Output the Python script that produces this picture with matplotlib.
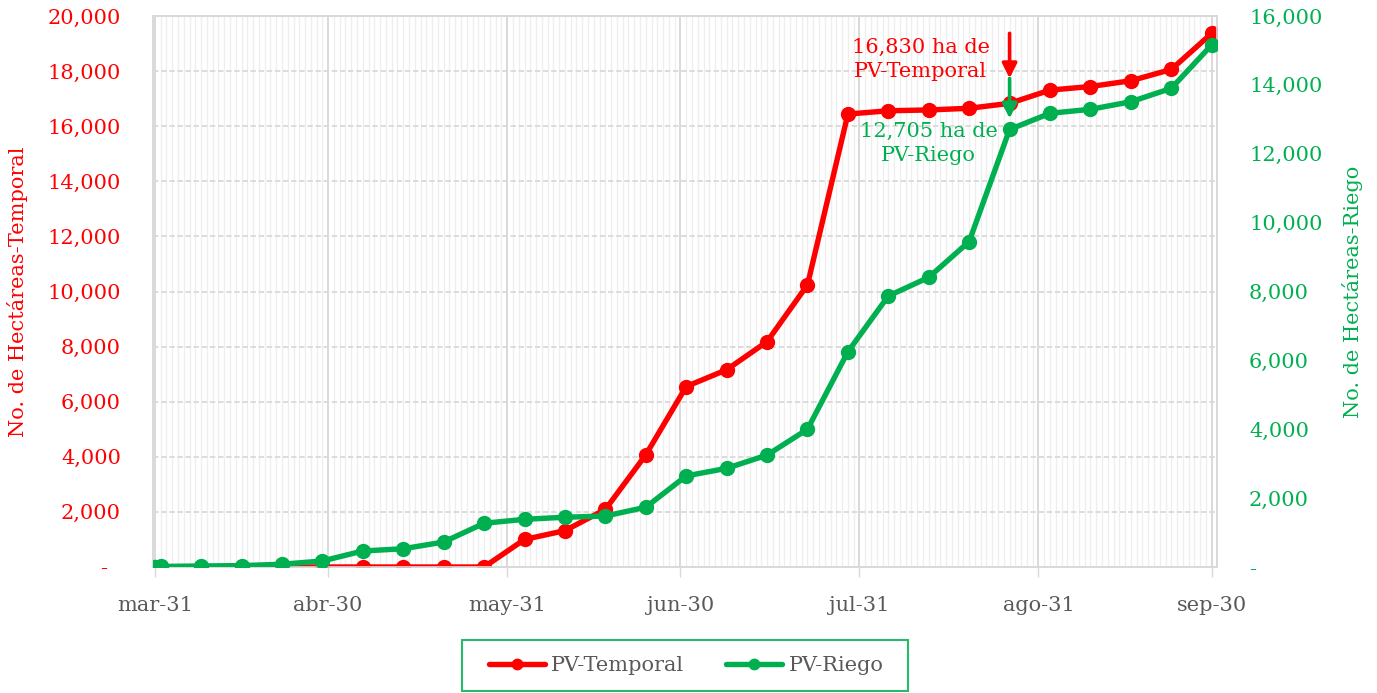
import matplotlib
matplotlib.use("Agg")
import matplotlib.pyplot as plt
import matplotlib.dates as mdates
import matplotlib.ticker as mticker
from matplotlib.patches import Rectangle
import numpy as np
import pandas as pd

# ---------------- data ----------------
dates = ["2021-03-31", "2021-04-01", "2021-04-08", "2021-04-15", "2021-04-22",
         "2021-04-29", "2021-05-06", "2021-05-13", "2021-05-20", "2021-05-27",
         "2021-06-03", "2021-06-10", "2021-06-17", "2021-06-24", "2021-07-01",
         "2021-07-08", "2021-07-15", "2021-07-22", "2021-07-29", "2021-08-05",
         "2021-08-12", "2021-08-19", "2021-08-26", "2021-09-02", "2021-09-09",
         "2021-09-16", "2021-09-23", "2021-09-30"]
temporal = [0, 0, 0, 0, 0, 0, 0, 0, 0, 0,
            1000, 1320, 2090, 4070, 6550, 7160, 8180, 10240, 16440, 16560,
            16590, 16650, 16830, 17310, 17440, 17650, 18060, 19370]
riego = [5, 15, 30, 40, 80, 175, 465, 530, 725, 1270,
         1385, 1445, 1480, 1735, 2645, 2865, 3250, 4000, 6250, 7870,
         8410, 9450, 12705, 13175, 13290, 13510, 13900, 15160]
month_ticks = ["2021-03-31", "2021-04-30", "2021-05-31", "2021-06-30",
               "2021-07-31", "2021-08-31", "2021-09-30"]
month_labels = ["mar-31", "abr-30", "may-31", "jun-30", "jul-31", "ago-31", "sep-30"]
annot_date = "2021-08-26"
series_names = ["PV-Temporal", "PV-Riego"]
left_label = "No. de Hectáreas-Temporal"
right_label = "No. de Hectáreas-Riego"

# ---------------- style ----------------
RED = "#FF0000"
GREEN = "#00B050"
GRAY_TXT = "#595959"
GRID = "#D9D9D9"
MINOR = "#EEEEEE"
FS = 15
W, H = 1377, 693

plt.rcParams["font.family"] = ["DejaVu Serif", "DejaVu Sans"]

x = pd.to_datetime(dates)
xt = pd.to_datetime(month_ticks)

fig = plt.figure(figsize=(W / 100, H / 100), dpi=100)
ax = fig.add_axes([153 / W, 1 - 567 / H, (1217 - 153) / W, (567 - 16) / H])
ax2 = ax.twinx()

ax.plot(x, temporal, color=RED, lw=3.9, marker="o", ms=10, label=series_names[0],
        solid_capstyle="round", zorder=3)
ax2.plot(x, riego, color=GREEN, lw=3.9, marker="o", ms=10, label=series_names[1],
         solid_capstyle="round", zorder=3)

ax.set_xlim(xt[0] - pd.Timedelta(hours=8), xt[-1] + pd.Timedelta(hours=22))
ax.set_ylim(0, 20000)
ax2.set_ylim(0, 16000)

ax.set_xticks(xt)
ax.set_xticklabels(month_labels)
ax.xaxis.set_minor_locator(mdates.DayLocator())
ax.set_yticks(np.arange(0, 20001, 2000))
ax2.set_yticks(np.arange(0, 16001, 2000))


def fmt(v, pos):
    return "-  " if v == 0 else f"{int(v):,}"


def fmt_r(v, pos):
    return "-" if v == 0 else f"{int(v):,}"


ax.yaxis.set_major_formatter(mticker.FuncFormatter(fmt))
ax2.yaxis.set_major_formatter(mticker.FuncFormatter(fmt_r))

ax.tick_params(axis="y", length=0, pad=23, labelsize=FS, labelcolor=RED)
ax2.tick_params(axis="y", length=0, pad=23, labelsize=FS, labelcolor=GREEN)
ax.tick_params(axis="x", which="major", length=7, width=1, color=GRID, pad=14,
               labelsize=FS, labelcolor=GRAY_TXT)
ax.tick_params(axis="x", which="minor", length=0)

ax.grid(axis="x", which="minor", color=MINOR, lw=0.9, zorder=0)
ax.grid(axis="x", which="major", color=GRID, lw=1.4, zorder=0)
ax.grid(axis="y", which="major", color=GRID, lw=1.3, ls=(0, (3, 1.5)), zorder=0)
ax.set_axisbelow(True)

for a in (ax, ax2):
    for s in a.spines.values():
        s.set_color(GRID)
        s.set_linewidth(1.2)

ax.set_ylabel(left_label, color=RED, fontsize=FS, labelpad=14)
ax2.set_ylabel(right_label, color=GREEN, fontsize=FS, labelpad=14)

# ---------------- annotations ----------------
i = dates.index(annot_date)
xa = x[i]
ax.annotate("", xy=(xa, temporal[i]), xytext=(0, 70 * 0.72), textcoords="offset points",
            annotation_clip=False,
            arrowprops=dict(arrowstyle="-|>", color=RED, lw=2.6, mutation_scale=22,
                            shrinkA=0, shrinkB=25 * 0.72))
ax.annotate(f"{temporal[i]:,} ha de\n{series_names[0]}", xy=(xa, temporal[i]),
            xytext=(-89 * 0.72, 44 * 0.72), textcoords="offset points",
            ha="center", va="center", color=RED, fontsize=FS, linespacing=1.38)
ax2.annotate("", xy=(xa, riego[i]), xytext=(0, 51 * 0.72), textcoords="offset points",
             arrowprops=dict(arrowstyle="-|>", color=GREEN, lw=2.6, mutation_scale=22,
                             shrinkA=0, shrinkB=11 * 0.72))
ax2.annotate(f"{riego[i]:,} ha de\n{series_names[1]}", xy=(xa, riego[i]),
             xytext=(-81 * 0.72, -14 * 0.72), textcoords="offset points",
             ha="center", va="center", color=GREEN, fontsize=FS, linespacing=1.38)

# ---------------- legend ----------------
fig.patches.append(Rectangle((462 / W, 1 - 691 / H), (908 - 462) / W, (691 - 640) / H,
                             transform=fig.transFigure, fill=False, edgecolor=GREEN,
                             lw=1.5, alpha=0.85))
h1, l1 = ax.get_legend_handles_labels()
h2, l2 = ax2.get_legend_handles_labels()
leg = fig.legend(h1 + h2, l1 + l2, loc="center", bbox_to_anchor=(686 / W, 1 - 665.5 / H),
                 ncol=2, fontsize=FS, frameon=False, handlelength=2.7,
                 handletextpad=0.3, columnspacing=2.0, borderpad=0.3, markerscale=0.75)
for t in leg.get_texts():
    t.set_color(GRAY_TXT)

fig.savefig("out.png", dpi=100)
